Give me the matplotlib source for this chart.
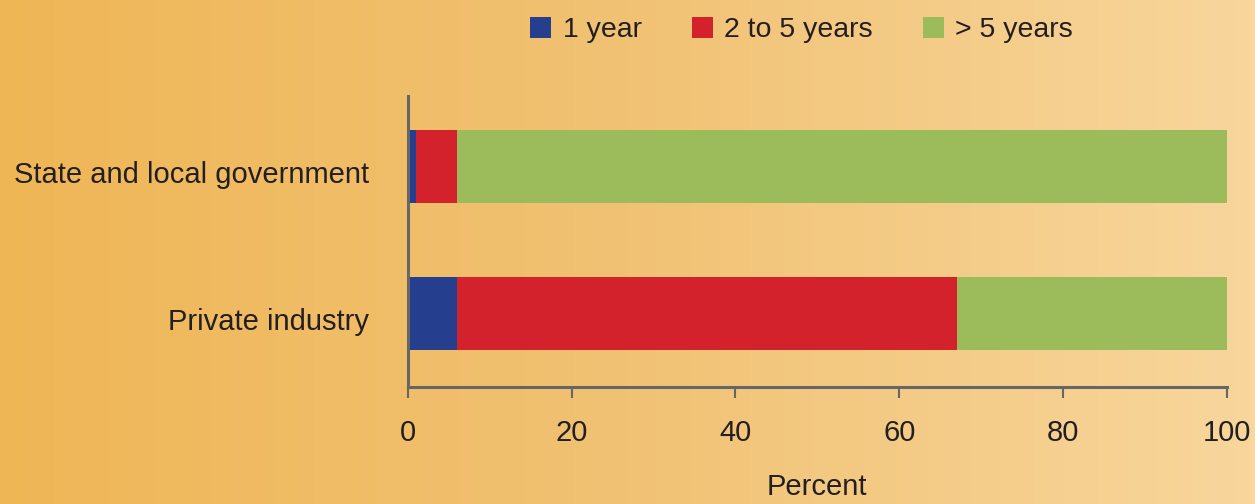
import numpy as np
import matplotlib
matplotlib.use("Agg")
import matplotlib.pyplot as plt
import matplotlib.transforms as mtransforms
from matplotlib.colors import LinearSegmentedColormap

plt.rcParams["font.family"] = ["Liberation Sans", "DejaVu Sans"]
plt.rcParams["font.size"] = 20.5

categories = ["Private industry", "State and local government"]
one_year = [6, 1]
two_to_five = [61, 5]
over_five = [33, 94]
series_labels = ["1 year", "2 to 5 years", "> 5 years"]
series_colors = ["#253F8E", "#D3222C", "#9CBC5C"]
xticks = [0, 20, 40, 60, 80, 100]

text_color = "#231F20"
axis_color = "#666666"

fig = plt.figure(figsize=(12.55, 5.04), dpi=100)

# gradient background
bg = fig.add_axes([0, 0, 1, 1], zorder=-10)
cmap = LinearSegmentedColormap.from_list("bg", ["#EFB656", "#F1C274", "#F8D69C"])
bg.imshow(np.linspace(0, 1, 256).reshape(1, -1), aspect="auto", cmap=cmap,
          extent=[0, 1, 0, 1])
bg.set_axis_off()

ax = fig.add_axes([0.325, 0.232, 0.6525, 0.5775])
ax.patch.set_alpha(0)

y = np.arange(len(categories))
left = np.zeros(len(categories))
for vals, lab, col in zip([one_year, two_to_five, over_five], series_labels, series_colors):
    ax.barh(y, vals, left=left, height=0.5, color=col, label=lab)
    left += np.array(vals)

ax.set_xlim(0, 100)
ax.set_ylim(-0.5, 1.48)
ax.set_xticks(xticks)
ax.set_xticklabels([str(t) for t in xticks], color=text_color, fontsize=21)
ax.set_yticks(y)
ax.set_yticklabels(categories, color=text_color, fontsize=21)
ax.tick_params(axis="y", length=0, pad=28)
ax.tick_params(axis="x", length=8, width=1.5, color=axis_color, pad=15)
# labels sit a little below bar centres in the original
shift = mtransforms.ScaledTranslation(0, -4 / 72, fig.dpi_scale_trans)
for lbl in ax.get_yticklabels():
    lbl.set_transform(lbl.get_transform() + shift)
for s in ["top", "right"]:
    ax.spines[s].set_visible(False)
for s in ["left", "bottom"]:
    ax.spines[s].set_color(axis_color)
    ax.spines[s].set_linewidth(2.2)

ax.set_xlabel("Percent", color=text_color, fontsize=21, labelpad=19)

fig.legend(loc="center", bbox_to_anchor=(0.6387, 0.94), ncol=3, frameon=False,
           fontsize=20.5, handlelength=0.74, handleheight=0.74, handletextpad=0.4,
           columnspacing=1.75, labelcolor=text_color)

fig.savefig("out.png", dpi=100)
